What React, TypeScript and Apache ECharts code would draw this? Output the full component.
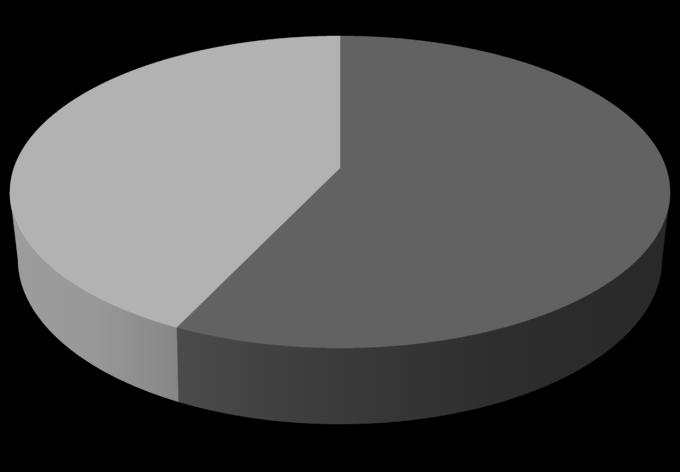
import React, { useEffect, useRef } from "react";
import * as echarts from "echarts";

const sliceValues = [57.1, 42.9];
const topColors = ["#626262", "#b2b2b2"];
const sideStops = [
  [
    [0.26, "#4b4b4b"],
    [0.5, "#3a3a3a"],
    [0.75, "#2d2d2d"],
    [1, "#282828"],
  ],
  [
    [0, "#9d9d9d"],
    [0.14, "#989898"],
    [0.27, "#858585"],
  ],
];

const W = 680;
const H = 472;
const CX = 340;
const TOP = { cy: 192, rx: 330, ry: 156, apex: -24 / 156 };
const BOTTOM = { cy: 259, rx: 322, ry: 165, apex: -0.17 };

type Rim = typeof TOP;

// A point of the tilted disc: clockwise turn from 12 o'clock, under perspective.
function discPoint(turn: number, rim: Rim) {
  const a = turn * Math.PI * 2;
  const u0 = Math.sin(a);
  const v0 = -Math.cos(a);
  const denom = 1 + v0 * rim.apex;
  return {
    u: (u0 * Math.sqrt(1 - rim.apex * rim.apex)) / denom,
    v: (v0 + rim.apex) / denom,
  };
}

function toScreen(p: { u: number; v: number }, e: Rim) {
  return [CX + p.u * e.rx, e.cy + p.v * e.ry];
}

function rimArc(start: number, end: number, rim: Rim) {
  const steps = 720;
  const arc: { u: number; v: number }[] = [];
  for (let k = 0; k <= steps; k++) {
    arc.push(discPoint(start + ((end - start) * k) / steps, rim));
  }
  return arc;
}

export default function App() {
  const ref = useRef<HTMLDivElement>(null);
  useEffect(() => {
    document.body.style.margin = "0";
    document.body.style.background = "#000";
    const chart = echarts.init(ref.current!, null, { renderer: "svg" });
    const total = sliceValues.reduce((s, v) => s + v, 0);
    chart.setOption({
      animation: false,
      backgroundColor: "#000000",
      series: [
        {
          type: "custom",
          coordinateSystem: "none",
          data: sliceValues,
          silent: true,
          renderItem: (params: any, api: any) => {
            const i = params.dataIndex;
            const before = sliceValues.slice(0, i).reduce((s, v) => s + v, 0);
            const start = before / total;
            const end = (before + api.value(0)) / total;
            const topArc = rimArc(start, end, TOP);
            const bottomArc = rimArc(start, end, BOTTOM);
            const topPts = [
              [CX, TOP.cy + TOP.apex * TOP.ry],
              ...topArc.map((p) => toScreen(p, TOP)),
            ];
            const sidePts = [
              ...topArc.filter((p) => p.v >= 0).map((p) => toScreen(p, TOP)),
              ...bottomArc
                .filter((p) => p.v >= 0)
                .reverse()
                .map((p) => toScreen(p, BOTTOM)),
            ];
            const gradient = new echarts.graphic.LinearGradient(
              0,
              0,
              W,
              0,
              sideStops[i].map((s) => ({ offset: s[0] as number, color: s[1] as string })),
              true
            );
            return {
              type: "group",
              children: [
                {
                  type: "polygon",
                  shape: { points: sidePts },
                  style: { fill: gradient, stroke: gradient, lineWidth: 0.5 },
                },
                {
                  type: "polygon",
                  shape: { points: topPts },
                  style: { fill: topColors[i], stroke: topColors[i], lineWidth: 0.5 },
                },
              ],
            };
          },
        },
      ],
    });
    return () => chart.dispose();
  }, []);
  return <div ref={ref} style={{ width: W, height: H }} />;
}
